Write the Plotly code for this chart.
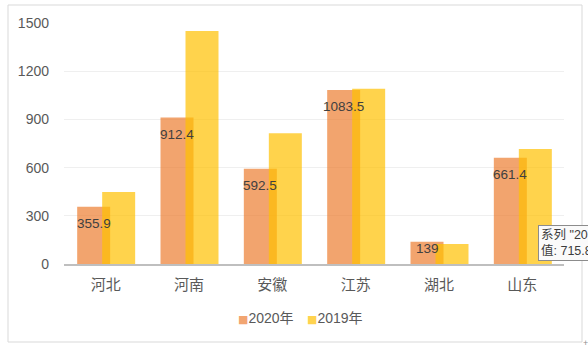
import plotly.graph_objects as go

categories = ["河北", "河南", "安徽", "江苏", "湖北", "山东"]
values_2020 = [355.9, 912.4, 592.5, 1083.5, 139, 661.4]
values_2019 = [448, 1450, 814, 1090, 125, 715.8]
series_names = ["2020年", "2019年"]
y_ticks = [0, 300, 600, 900, 1200, 1500]

W, H = 588, 352
ML, MR, MT, MB = 64, 24, 23, 88
plot_w = W - ML - MR
plot_h = H - MT - MB
px_per_cat = plot_w / len(categories)
px_per_unit = plot_h / 1500

bar_w = 0.396
off_2020 = -0.342
off_2019 = -0.042
colors = ["rgba(237,125,49,0.7)", "rgba(255,192,0,0.7)"]

FONT = "Liberation Sans, Arial, Noto Sans CJK SC, sans-serif"

fig = go.Figure()
fig.add_trace(go.Bar(
    x=categories, y=values_2020, name=series_names[0],
    width=bar_w, offset=off_2020,
    marker=dict(color=colors[0], line=dict(width=0)),
    hoverinfo="skip", showlegend=False,
))
fig.add_trace(go.Bar(
    x=categories, y=values_2019, name=series_names[1],
    width=bar_w, offset=off_2019,
    marker=dict(color=colors[1], line=dict(width=0)),
    hoverinfo="skip", showlegend=False,
))

# data labels for 2020 series (inside end)
label_xshift = (off_2020 + bar_w / 2) * px_per_cat
for c, v in zip(categories, values_2020):
    y_lab = max(v - 17 / px_per_unit, 16 / px_per_unit)
    fig.add_annotation(
        x=c, y=y_lab, xref="x", yref="y", text=f"{v:g}",
        showarrow=False, xshift=label_xshift, yanchor="middle",
        font=dict(family=FONT, size=13.5, color="#404040"),
    )

# legend (compact, Excel style)
legend_x_px = [236, 305]
legend_y_px = 318
for name, col, lx in zip(series_names, colors, legend_x_px):
    fig.add_annotation(
        xref="paper", yref="paper",
        x=(lx - ML) / plot_w, y=(MT + plot_h - legend_y_px) / plot_h,
        xanchor="left", yanchor="middle", showarrow=False,
        text=f'<span style="color:{col};font-size:11px;font-family:DejaVu Sans">■</span>{name}',
        font=dict(family=FONT, size=14, color="#595959"),
    )

# tooltip remnant
fig.add_annotation(
    xref="paper", yref="paper",
    x=(538 - ML) / plot_w, y=(MT + plot_h - 225) / plot_h,
    xanchor="left", yanchor="top", align="left",
    text='系列 "2019年" 点 "山东"<br>值: 715.8',
    showarrow=False, bgcolor="#FAFAFA", bordercolor="#8C8C8C", borderwidth=1,
    borderpad=2, font=dict(family=FONT, size=12.5, color="#3C3C3C"),
)

# resize handle mark
fig.add_annotation(
    xref="paper", yref="paper",
    x=(585 - ML) / plot_w, y=(MT + plot_h - 343) / plot_h,
    text="+", showarrow=False, xanchor="center", yanchor="middle",
    font=dict(family=FONT, size=9, color="#909090"),
)

# outer chart border
fig.add_shape(
    type="rect", xref="paper", yref="paper", layer="below",
    x0=(8 - ML) / plot_w, x1=(582 - ML) / plot_w,
    y0=(MT + plot_h - 342) / plot_h, y1=(MT + plot_h - 5) / plot_h,
    line=dict(color="#D9D9D9", width=1), fillcolor="rgba(0,0,0,0)",
)

fig.update_layout(
    width=W, height=H,
    margin=dict(l=ML, r=MR, t=MT, b=MB, pad=0),
    barmode="overlay",
    paper_bgcolor="white", plot_bgcolor="white",
    font=dict(family=FONT, color="#595959"),
    showlegend=False,
    xaxis=dict(
        showline=True, linecolor="#BFBFBF", linewidth=2,
        ticks="", showgrid=False,
        ticklabelstandoff=6,
        tickfont=dict(family="Noto Sans CJK SC, sans-serif", size=15, color="#595959"),
        range=[-0.5, len(categories) - 0.5],
    ),
    yaxis=dict(
        range=[0, 1500], tickvals=y_ticks, ticktext=[str(t) for t in y_ticks],
        showgrid=True, gridcolor="#EFEFEF", gridwidth=1,
        zeroline=False, showline=False, ticks="",
        ticklabelstandoff=14,
        tickfont=dict(family=FONT, size=14, color="#595959"),
    ),
)

fig.write_html("out.html")
